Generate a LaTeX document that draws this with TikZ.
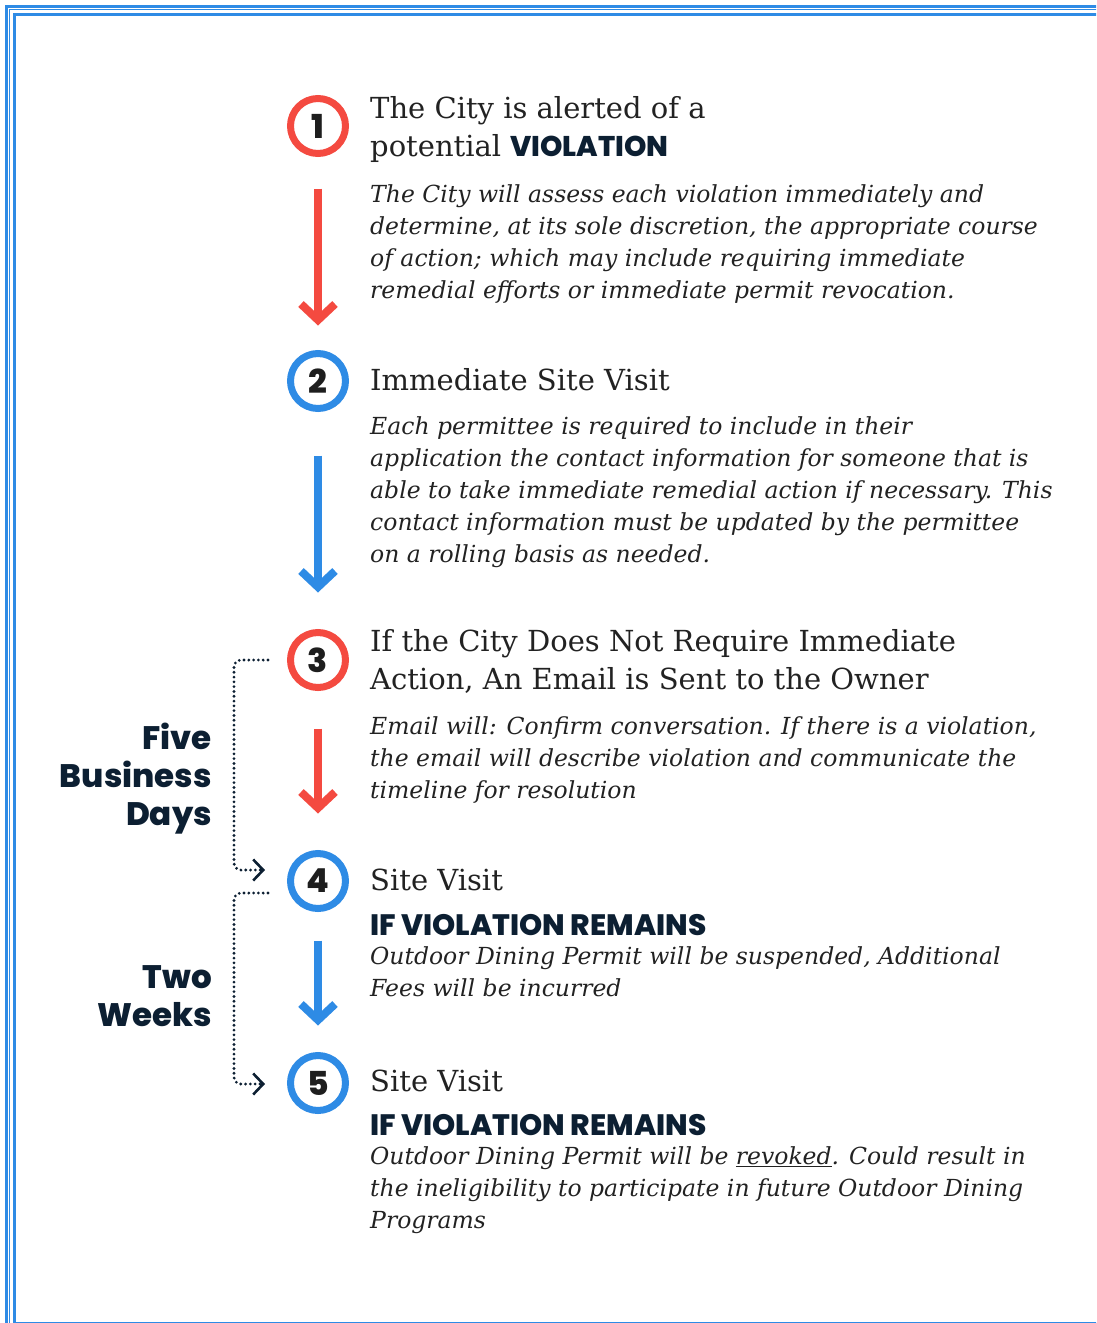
\documentclass[tikz,border=0pt]{standalone}
\usepackage{fontspec}
\setmainfont{DejaVu Serif}
\IfFontExistsTF{Poppins ExtraBold}{\newfontfamily\heavy{Poppins ExtraBold}}{\newfontfamily\heavyb{Poppins}\newcommand\heavy{\heavyb\bfseries}}
\usetikzlibrary{arrows.meta,calc}
\definecolor{cred}{RGB}{244,74,64}
\definecolor{cblue}{RGB}{46,139,229}
\definecolor{cnavy}{RGB}{12,31,50}
\definecolor{ctext}{RGB}{34,34,34}
\definecolor{cnum}{RGB}{30,30,30}
\begin{document}
\begin{tikzpicture}[x=1pt,y=-1pt,
  stepcircle/.style={circle, minimum size=55pt, inner sep=0pt, line width=7pt, font=\heavy\fontsize{33}{33}\selectfont, text=cnum},
  flowarrow/.style={line width=8pt, -{Straight Barb[length=16pt, width=34pt]}},
  bracket/.style={cnavy, line width=3.1pt, dash pattern=on 0pt off 4.8pt, line cap=round, rounded corners=7pt, -{Straight Barb[length=10pt, width=21pt, line width=2.6pt]}},
  titletext/.style={inner sep=0pt, align=left, text=ctext, font=\fontsize{29}{38}\selectfont},
  bodytext/.style={inner sep=0pt, align=left, text=ctext, font=\itshape\fontsize{23.5}{32}\selectfont},
  heavytext/.style={inner sep=0pt, text=cnavy, font=\heavy\fontsize{29.5}{32}\selectfont},
  sidelabel/.style={inner sep=0pt, align=right, text=cnavy, font=\heavy\fontsize{32.5}{38}\selectfont}
]
\useasboundingbox (0,0) rectangle (1096,1323);
\begin{scope}
\clip (0,0) rectangle (1096,1323);
\draw[cblue, line width=2.5pt] (6.5,1330) -- (6.5,6.5) -- (1100,6.5);
\draw[cblue, line width=1.3pt] (9.8,1330) -- (9.8,9.8) -- (1100,9.8);
\draw[cblue, line width=3pt] (14.2,1330) -- (14.2,14.2) -- (1100,14.2);
\draw[cblue, line width=2pt] (14.2,1322.5) -- (1100,1322.5);
\end{scope}

% step circles
\node[stepcircle, draw=cred] (c1) at (318,126) {1};
\node[stepcircle, draw=cblue] (c2) at (318,381) {2};
\node[stepcircle, draw=cred] (c3) at (318,660) {3};
\node[stepcircle, draw=cblue] (c4) at (318,881) {4};
\node[stepcircle, draw=cblue] (c5) at (318,1083) {5};

% flow arrows
\draw[flowarrow, cred] ([yshift=-31.5pt]c1.south) -- ([yshift=24.5pt]c2.north);
\draw[flowarrow, cblue] ([yshift=-43.5pt]c2.south) -- ([yshift=36.5pt]c3.north);
\draw[flowarrow, cred] ([yshift=-37.5pt]c3.south) -- ([yshift=36.5pt]c4.north);
\draw[flowarrow, cblue] ([yshift=-28.5pt]c4.south) -- ([yshift=26.5pt]c5.north);

% dotted brackets
\coordinate (b1s) at ($(c3.center)+(-50,0)$);
\coordinate (b1e) at ($(c4.center)+(-53,-11)$);
\coordinate (b2s) at ($(c4.center)+(-50,12)$);
\coordinate (b2e) at ($(c5.center)+(-53,1)$);
\draw[bracket] (b1s) -| ($(b1e)+(-31,0)$) -- (b1e);
\draw[bracket] (b2s) -| ($(b2e)+(-31,0)$) -- (b2e);

% side labels
\node[sidelabel, anchor=north east] (lab1) at (212,749-26.6) {\strut Five\\Business\\Days};
\node[sidelabel, anchor=north east] (lab2) at (212,988-26.6) {\strut Two\\Weeks};

% step 1
\node[titletext, anchor=north west] (t1) at (370,118-26.6) {\strut The City is alerted of a\\potential {\heavy\fontsize{28.5}{38}\selectfont\color{cnavy}VIOLATION}};
\node[bodytext, anchor=north west] (d1) at (370,202-22.4) {\strut The City will assess each violation immediately and\\determine, at its sole discretion, the appropriate course\\of action; which may include requiring immediate\\remedial efforts or immediate permit revocation.};

% step 2
\node[titletext, anchor=base west] (t2) at (370,390) {Immediate Site Visit};
\node[bodytext, anchor=north west] (d2) at (370,434-22.4) {\strut Each permittee is required to include in their\\application the contact information for someone that is\\able to take immediate remedial action if necessary. This\\contact information must be updated by the permittee\\on a rolling basis as needed.};

% step 3
\node[titletext, anchor=north west] (t3) at (370,651-26.6) {\strut If the City Does Not Require Immediate\\Action, An Email is Sent to the Owner};
\node[bodytext, anchor=north west] (d3) at (370,734-22.4) {\strut Email will: Confirm conversation. If there is a violation,\\the email will describe violation and communicate the\\timeline for resolution};

% step 4
\node[titletext, anchor=base west] (t4) at (370,890) {Site Visit};
\node[heavytext, anchor=base west] (h4) at (370,935) {IF VIOLATION REMAINS};
\node[bodytext, anchor=north west] (d4) at (370,964-22.4) {\strut Outdoor Dining Permit will be suspended, Additional\\Fees will be incurred};

% step 5
\node[titletext, anchor=base west] (t5) at (370,1091) {Site Visit};
\node[heavytext, anchor=base west] (h5) at (370,1135) {IF VIOLATION REMAINS};
\node[bodytext, anchor=north west] (d5) at (370,1164-22.4) {\strut Outdoor Dining Permit will be \underline{revoked}. Could result in\\the ineligibility to participate in future Outdoor Dining\\Programs};
\end{tikzpicture}
\end{document}
